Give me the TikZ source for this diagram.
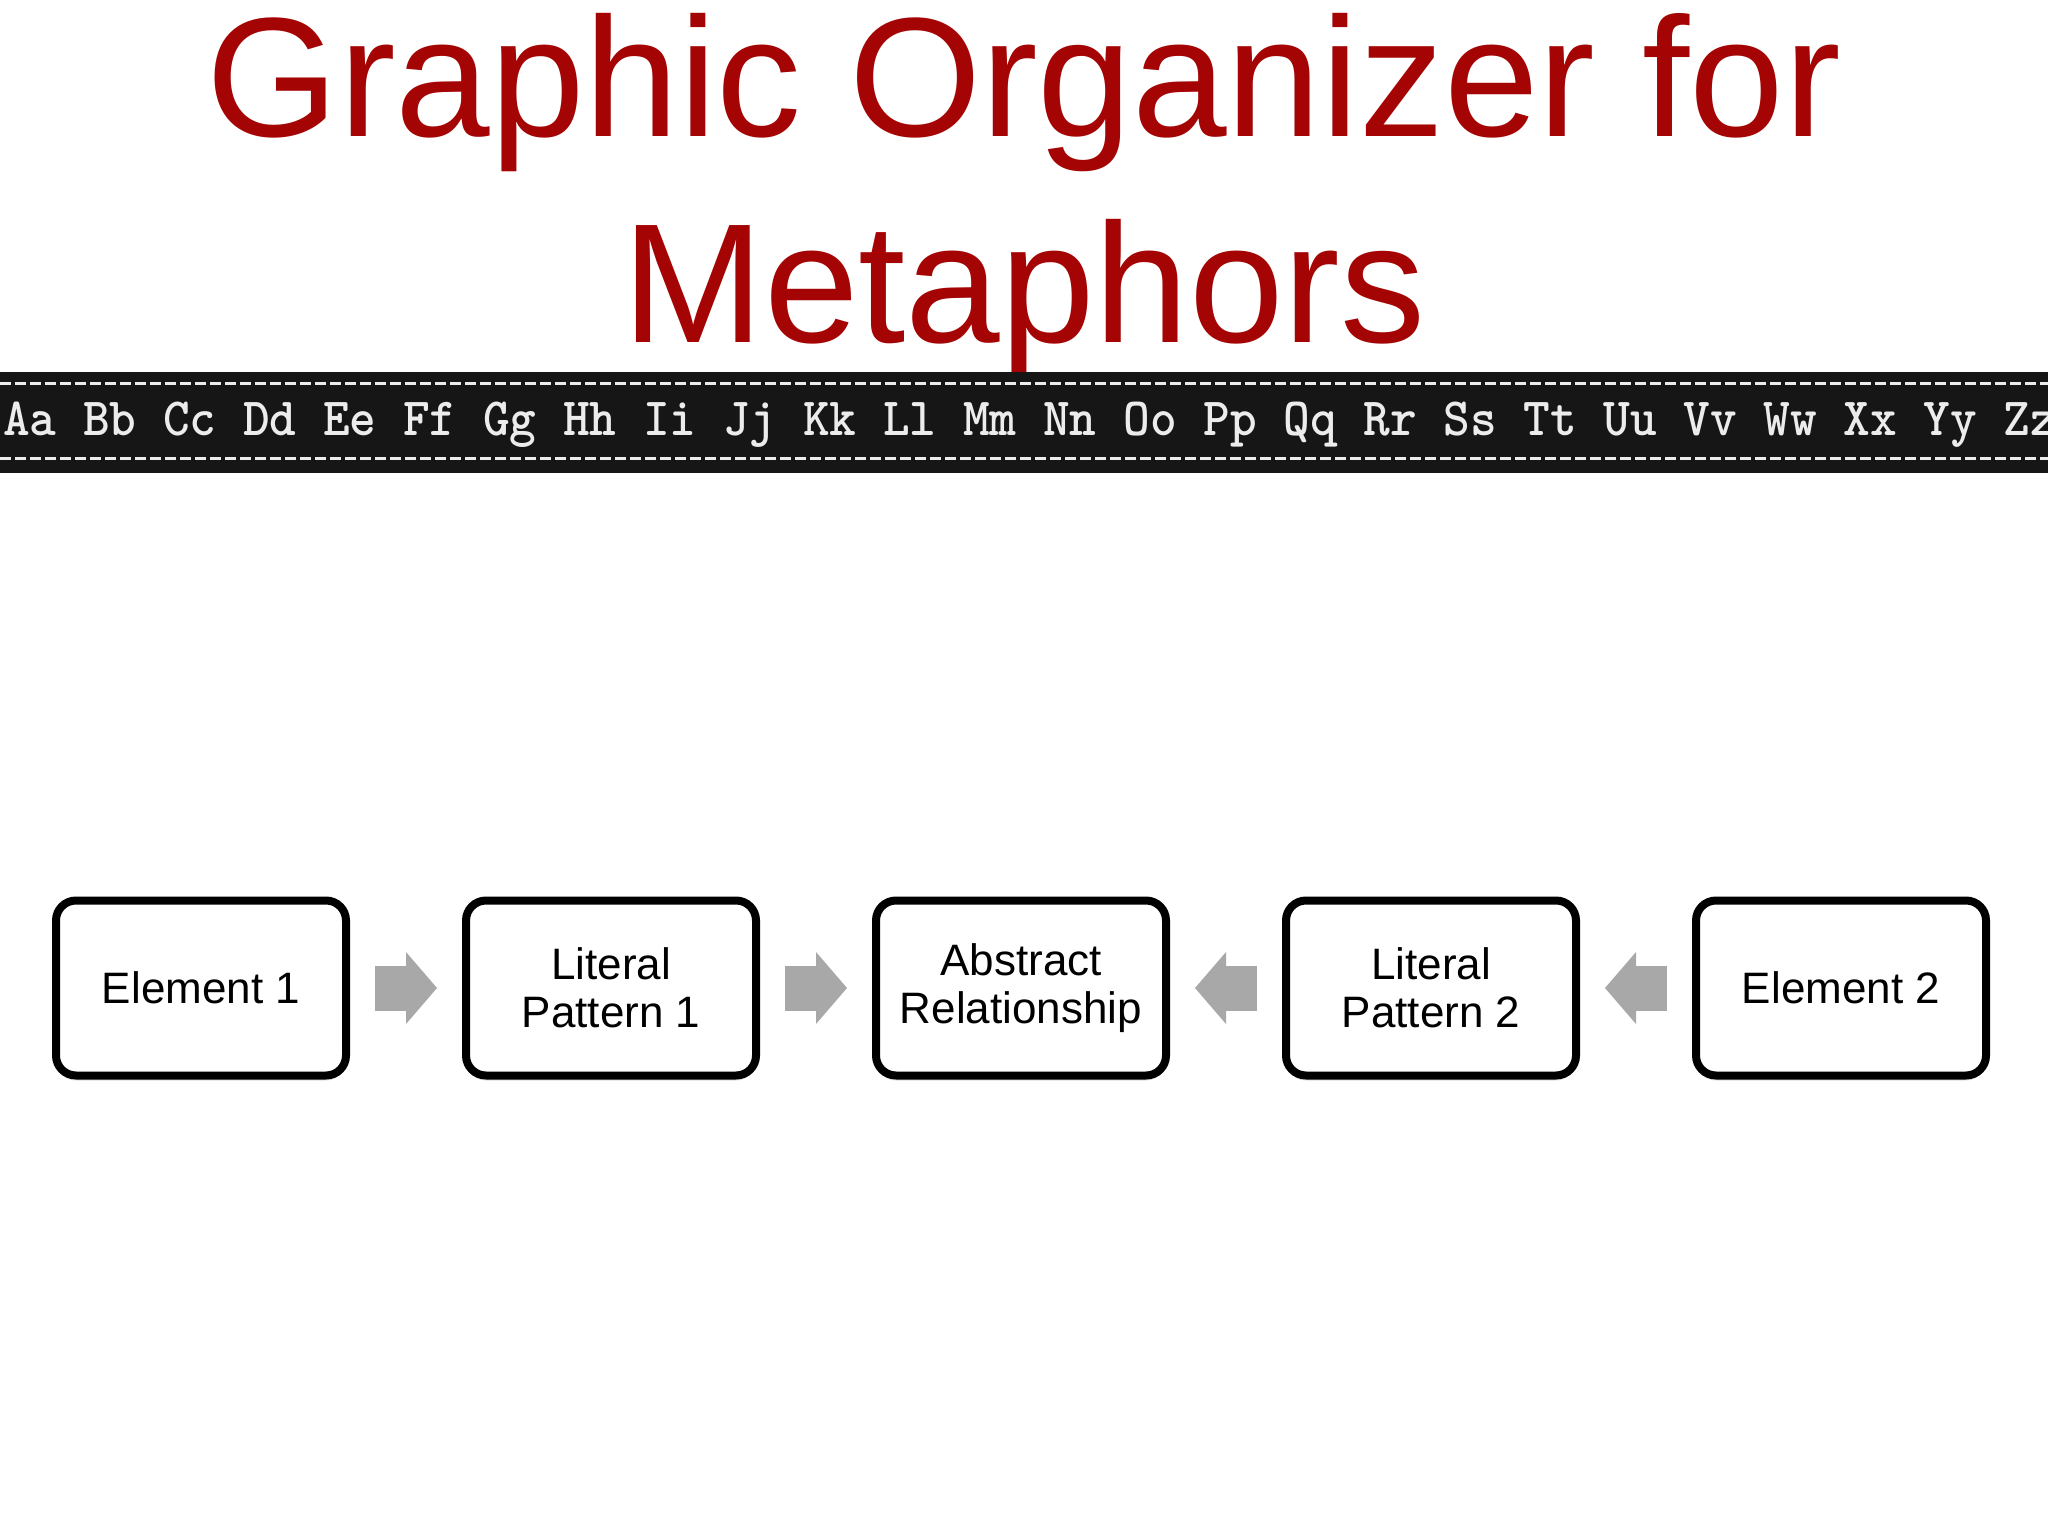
\documentclass[tikz,border=0pt]{standalone}
\usepackage{fontspec}
\setmainfont{Liberation Sans}
\usetikzlibrary{arrows.meta,shadows}
\definecolor{titlered}{RGB}{165,4,4}
\definecolor{arrowgray}{RGB}{168,168,168}
\definecolor{chalkboard}{RGB}{22,22,22}
\definecolor{chalk}{RGB}{236,236,236}

\begin{document}
\begin{tikzpicture}[x=1pt,y=-1pt,
	box/.style={draw=black,fill=white,line width=8pt,rounded corners=20pt,minimum width=290pt,minimum height=175pt,align=center,font=\fontsize{44}{48}\selectfont,drop shadow={shadow xshift=0pt,shadow yshift=-5pt,opacity=0.25}},
	blockarrow/.style={draw=arrowgray,line width=45pt,-{Triangle[width=72pt,length=31pt,line width=0pt]},shorten <=25pt,shorten >=25pt},
	title/.style={anchor=base,inner sep=0pt,text=titlered,font=\fontsize{170}{205}\selectfont}]
	\useasboundingbox[fill=white] (0,0) rectangle (2048,1536);

	\node[title] (title1) at (1024,137) {Graphic Organizer for};
	\node[title] (title2) at (1024,342) {Metaphors};

	% alphabet strip
	\fill[chalkboard] (0,372) rectangle (2048,473);
	\draw[chalk,line width=3pt,dash pattern=on 11pt off 4pt] (0,383) -- (2048,383);
	\draw[chalk,line width=3pt,dash pattern=on 11pt off 4pt] (0,458) -- (2048,458);
	\node[anchor=base west,inner sep=0pt,text=chalk,font=\ttfamily\bfseries\fontsize{50.8}{56}\selectfont] (abc) at (3,435)
		{\scalebox{1}[1.06]{Aa Bb Cc Dd Ee Ff Gg Hh Ii Jj Kk Ll Mm Nn Oo Pp Qq Rr Ss Tt Uu Vv Ww Xx Yy Zz}};

	\foreach \cx/\nm/\txt in {201/el1/{Element 1},611/lit1/{Literal\\Pattern 1},1021/abs/{Abstract\\Relationship},1431/lit2/{Literal\\Pattern 2},1841/el2/{Element 2}}
		\node[box] (\nm) at (\cx,988) {\txt};

	\foreach \a/\b in {el1/lit1,lit1/abs,el2/lit2,lit2/abs}
		\draw[blockarrow] (\a) -- (\b);
\end{tikzpicture}
\end{document}
